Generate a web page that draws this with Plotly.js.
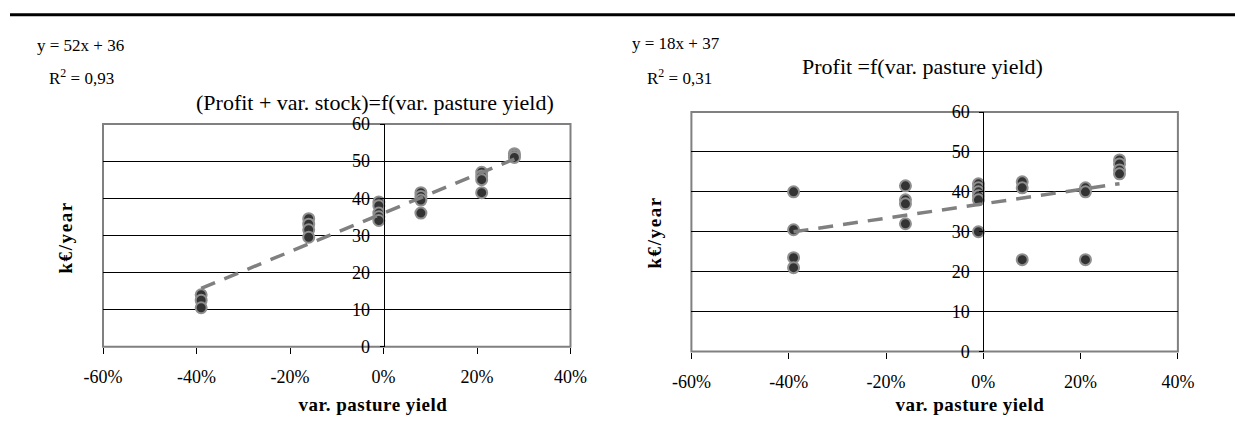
<!DOCTYPE html>
<html>
<head>
<meta charset="utf-8">
<script src="https://cdn.plot.ly/plotly-3.0.1.min.js"></script>
<style>
html,body{margin:0;padding:0;background:#fff;}
#chart{width:1235px;height:441px;}
.annotation[data-index="8"] text, .annotation[data-index="9"] text{letter-spacing:1.6px;}
.annotation[data-index="6"] text, .annotation[data-index="7"] text{letter-spacing:0.5px;}
</style>
</head>
<body>
<div id="chart"></div>
<script>
// ---- data ----
const pastureYieldVar = [-0.39, -0.16, -0.01, 0.08, 0.21, 0.28];
const profitPlusStock = [
  [14, 12.5, 10.5],
  [34.5, 33, 31.5, 29.5],
  [39, 38, 36, 35, 34],
  [41.5, 40.5, 39.5, 36],
  [47, 46, 45, 41.5],
  [52, 51.5, 51]
];
const profitOnly = [
  [40, 30.5, 23.5, 21],
  [41.5, 38, 37, 32],
  [42, 41, 40, 39, 38, 30],
  [42.5, 41, 23],
  [41, 40, 23],
  [48, 47, 45.5, 44.5]
];
const leftTrend = {slope: 52, intercept: 36};
const rightTrend = {slope: 18, intercept: 37};
const xTickVals = [-0.6, -0.4, -0.2, 0, 0.2, 0.4];
const xTickText = ['-60%', '-40%', '-20%', '0%', '20%', '40%'];
const yTickVals = [0, 10, 20, 30, 40, 50, 60];
const leftTitle = '(Profit + var. stock)=f(var. pasture yield)';
const rightTitle = 'Profit =f(var. pasture yield)';
const leftEq = 'y = 52x + 36';
const leftR2 = 'R<sup>2</sup> = 0,93';
const rightEq = 'y = 18x + 37';
const rightR2 = 'R<sup>2</sup> = 0,31';
const xTitle = 'var. pasture yield';
const yTitle = 'k€/year';

// ---- helpers ----
const W = 1235, H = 441;
const FONT = 'Liberation Serif, Times New Roman, serif';
const px = v => v / W;
const py = v => 1 - v / H;

function flatten(xs, groups) {
  const X = [], Y = [];
  groups.forEach((g, i) => g.forEach(v => { X.push(xs[i]); Y.push(v); }));
  return {X, Y};
}
function trendLine(xs, t) {
  const x0 = Math.min(...xs), x1 = Math.max(...xs);
  return {x: [x0, x1], y: [t.slope * x0 + t.intercept, t.slope * x1 + t.intercept]};
}

const L = flatten(pastureYieldVar, profitPlusStock);
const R = flatten(pastureYieldVar, profitOnly);
const LT = trendLine(pastureYieldVar, leftTrend);
const RT = trendLine(pastureYieldVar, rightTrend);

const markerStyle = {size: 11, color: '#333333', line: {color: '#8f8f8f', width: 2}};
const trendStyle = {color: '#808080', width: 3.5, dash: '15px,10px'};

const traces = [
  {x: L.X, y: L.Y, type: 'scatter', mode: 'markers', marker: markerStyle, xaxis: 'x', yaxis: 'y'},
  {x: LT.x, y: LT.y, type: 'scatter', mode: 'lines', line: trendStyle, xaxis: 'x', yaxis: 'y'},
  {x: R.X, y: R.Y, type: 'scatter', mode: 'markers', marker: markerStyle, xaxis: 'x2', yaxis: 'y2'},
  {x: RT.x, y: RT.y, type: 'scatter', mode: 'lines', line: trendStyle, xaxis: 'x2', yaxis: 'y2'}
];

const lDomX = [px(103), px(570.5)], lDomY = [py(346.7), py(124)];
const rDomX = [px(691.4), px(1177.9)], rDomY = [py(351.5), py(112)];

function xAxis(dom, anchor) {
  return {
    domain: dom, anchor: anchor, range: [-0.6, 0.4],
    tickmode: 'array', tickvals: xTickVals, ticktext: xTickText,
    ticks: 'outside', ticklen: 6, tickcolor: '#000', tickwidth: 1,
    showgrid: false, zeroline: false, showline: false,
    ticklabelstandoff: 8,
    tickfont: {family: FONT, size: 18, color: '#000'}, fixedrange: true
  };
}
function yAxis(dom, xdom) {
  return {
    domain: dom, anchor: 'free', position: xdom[0] + 0.6 * (xdom[1] - xdom[0]),
    range: [0, 60], tickmode: 'array', tickvals: yTickVals,
    ticks: 'outside', ticklen: 4, tickcolor: '#000', tickwidth: 1,
    showline: true, linecolor: '#000', linewidth: 1,
    showgrid: true, gridcolor: '#000', gridwidth: 1, zeroline: false,
    ticklabelstandoff: 6,
    tickfont: {family: FONT, size: 18, color: '#000'}, fixedrange: true
  };
}

function ann(text, x, y, opts) {
  return Object.assign({text: text, xref: 'paper', yref: 'paper', x: px(x), y: py(y),
    xanchor: 'left', yanchor: 'middle', showarrow: false,
    font: {family: FONT, size: 17, color: '#000'}}, opts || {});
}

const layout = {
  width: W, height: H, margin: {l: 0, r: 0, t: 0, b: 0},
  paper_bgcolor: '#fff', plot_bgcolor: '#fff', showlegend: false, hovermode: false,
  xaxis: xAxis(lDomX, 'y'), yaxis: yAxis(lDomY, lDomX),
  xaxis2: xAxis(rDomX, 'y2'), yaxis2: yAxis(rDomY, rDomX),
  shapes: [
    {type: 'line', xref: 'paper', yref: 'paper', x0: px(10), x1: 1, y0: py(14.7), y1: py(14.7), line: {color: '#000', width: 3}},
    {type: 'rect', xref: 'x domain', yref: 'y domain', x0: 0, x1: 1, y0: 0, y1: 1, line: {color: '#808080', width: 2}, layer: 'below'},
    {type: 'rect', xref: 'x2 domain', yref: 'y2 domain', x0: 0, x1: 1, y0: 0, y1: 1, line: {color: '#808080', width: 2}, layer: 'below'}
  ],
  annotations: [
    ann(leftEq, 35, 45),
    ann(leftR2, 47, 77),
    ann(leftTitle, 194, 103, {font: {family: FONT, size: 22, color: '#000'}}),
    ann(rightEq, 630, 43),
    ann(rightR2, 645, 77),
    ann(rightTitle, 800, 67, {font: {family: FONT, size: 22, color: '#000'}}),
    ann(xTitle, 372.5, 404, {xanchor: 'center', font: {family: FONT, size: 19, color: '#000', weight: 'bold'}}),
    ann(xTitle, 970, 404, {xanchor: 'center', font: {family: FONT, size: 19, color: '#000', weight: 'bold'}}),
    ann(yTitle, 65, 237, {xanchor: 'center', textangle: -90, font: {family: FONT, size: 19, color: '#000', weight: 'bold'}}),
    ann(yTitle, 655, 232, {xanchor: 'center', textangle: -90, font: {family: FONT, size: 19, color: '#000', weight: 'bold'}})
  ]
};

Plotly.newPlot('chart', traces, layout, {displayModeBar: false});
</script>
</body>
</html>
